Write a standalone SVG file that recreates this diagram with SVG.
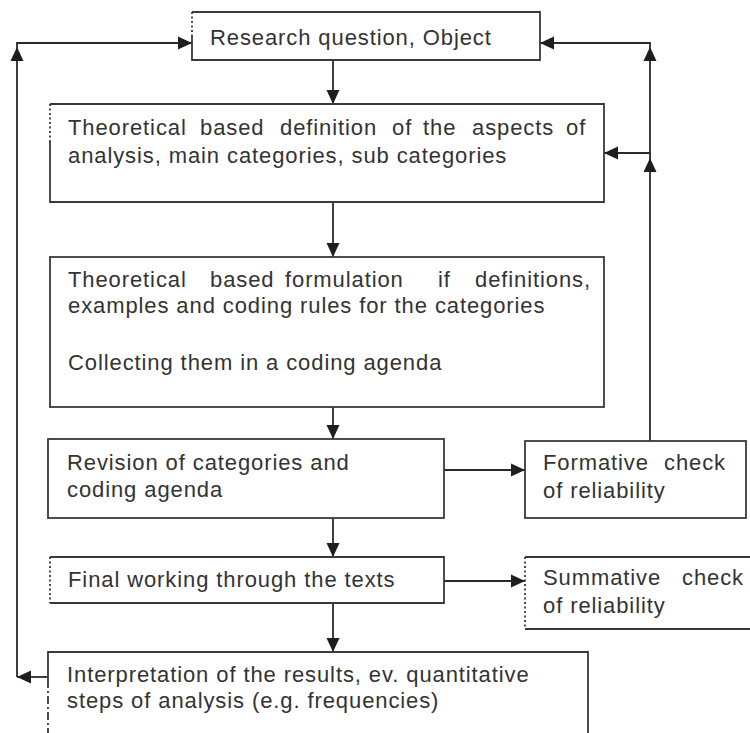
<svg xmlns="http://www.w3.org/2000/svg" width="750" height="733" viewBox="0 0 750 733">
<defs>
<marker id="ah" markerUnits="userSpaceOnUse" markerWidth="14" markerHeight="14" refX="14" refY="7" orient="auto">
<path d="M0,0.5 L14,7 L0,13.5 z" fill="#1e1e1e"/>
</marker>
<style>
.b{fill:none;stroke:#3a3a3a;stroke-width:1.8}
.d{fill:none;stroke:#3a3a3a;stroke-width:1.8;stroke-dasharray:2,2.5}
.c{fill:none;stroke:#2a2a2a;stroke-width:1.8}
.t{font-family:"Liberation Sans",Arial,sans-serif;font-size:22px;fill:#333;letter-spacing:0.9px}
</style>
</defs>
<rect width="750" height="733" fill="#fff"/>

<g id="connectors">
<line class="c" x1="333" y1="60" x2="333" y2="104" marker-end="url(#ah)"/>
<line class="c" x1="333" y1="202" x2="333" y2="257" marker-end="url(#ah)"/>
<line class="c" x1="333" y1="407" x2="333" y2="439" marker-end="url(#ah)"/>
<line class="c" x1="333" y1="518" x2="333" y2="557" marker-end="url(#ah)"/>
<line class="c" x1="333" y1="603" x2="333" y2="652" marker-end="url(#ah)"/>
<line class="c" x1="444" y1="470" x2="525" y2="470" marker-end="url(#ah)"/>
<line class="c" x1="444" y1="581" x2="525" y2="581" marker-end="url(#ah)"/>
<line class="c" x1="48" y1="677" x2="17" y2="677" marker-end="url(#ah)"/>
<line class="c" x1="17" y1="677" x2="17" y2="47" marker-end="url(#ah)"/>
<path class="c" d="M17,47 V43 H192" marker-end="url(#ah)"/>
<line class="c" x1="650" y1="441" x2="650" y2="158" marker-end="url(#ah)"/>
<path class="c" d="M650,158 V153 H604" marker-end="url(#ah)"/>
<line class="c" x1="650" y1="153" x2="650" y2="47" marker-end="url(#ah)"/>
<path class="c" d="M650,47 V43 H540" marker-end="url(#ah)"/>
</g>

<g id="research">
<path class="b" d="M192,36 V60 H540 V12 H192"/>
<line class="d" x1="192" y1="12" x2="192" y2="36"/>
<text class="t" x="210" y="45">Research question, Object</text>
</g>

<g id="definition">
<path class="b" d="M50,140 V202 H604 V104 H50"/>
<line class="d" x1="50" y1="104" x2="50" y2="140"/>
<text class="t" y="135"><tspan x="68">Theoretical</tspan><tspan x="200">based</tspan><tspan x="280">definition</tspan><tspan x="392">of</tspan><tspan x="423">the</tspan><tspan x="472">aspects</tspan><tspan x="566">of</tspan></text>
<text class="t" x="68" y="163">analysis, main categories, sub categories</text>
</g>

<g id="formulation">
<rect class="b" x="50" y="257" width="554" height="150"/>
<text class="t" y="287"><tspan x="68">Theoretical</tspan><tspan x="210">based</tspan><tspan x="285">formulation</tspan><tspan x="438">if</tspan><tspan x="475">definitions,</tspan></text>
<text class="t" x="68" y="313">examples and coding rules for the categories</text>
<text class="t" x="68" y="370">Collecting them in a coding agenda</text>
</g>

<g id="revision">
<rect class="b" x="48" y="439" width="396" height="79"/>
<text class="t" x="67" y="470">Revision of categories and</text>
<text class="t" x="67" y="497">coding agenda</text>
</g>

<g id="formative">
<rect class="b" x="525" y="441" width="221" height="77"/>
<text class="t" y="470"><tspan x="543">Formative</tspan><tspan x="664">check</tspan></text>
<text class="t" x="543" y="498">of reliability</text>
</g>

<g id="final">
<path class="b" d="M50,557 H444 V603 H50"/>
<line class="d" x1="50" y1="557" x2="50" y2="603"/>
<text class="t" x="68" y="587">Final working through the texts</text>
</g>

<g id="summative">
<path class="b" d="M760,557 H525 M525,629 H760"/>
<line class="d" x1="525" y1="557" x2="525" y2="629"/>
<text class="t" y="585"><tspan x="543">Summative</tspan><tspan x="682">check</tspan></text>
<text class="t" x="543" y="613">of reliability</text>
</g>

<g id="interpretation">
<path class="b" d="M48,680 V652 H588 V740"/>
<line class="b" x1="48" y1="680" x2="48" y2="740" stroke-dasharray="8,3,2,3"/>
<text class="t" x="67" y="682">Interpretation of the results, ev. quantitative</text>
<text class="t" x="67" y="708">steps of analysis (e.g. frequencies)</text>
</g>
</svg>
